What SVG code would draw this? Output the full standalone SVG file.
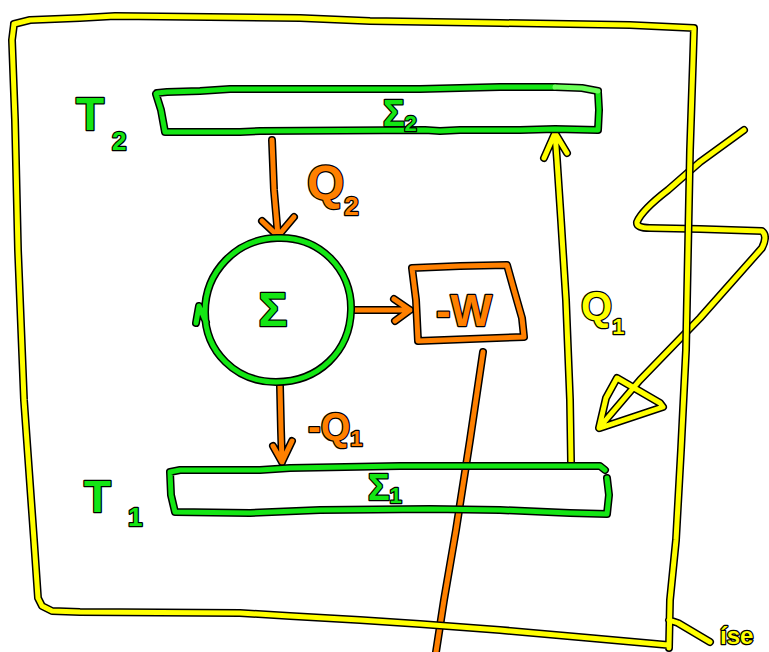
<svg xmlns="http://www.w3.org/2000/svg" xmlns:xlink="http://www.w3.org/1999/xlink" width="769" height="652" viewBox="0 0 769 652">
<style>
.o{fill:none;stroke:#000;stroke-width:8;stroke-linecap:round;stroke-linejoin:round}
.y{fill:none;stroke:#ffff00;stroke-width:5;stroke-linecap:round;stroke-linejoin:round}
.g{fill:none;stroke:#14e614;stroke-width:5;stroke-linecap:round;stroke-linejoin:round}
.lg{fill:none;stroke:#6cff5a;stroke-width:5;stroke-linecap:round;stroke-linejoin:round}
.r{fill:none;stroke:#ff8000;stroke-width:5;stroke-linecap:round;stroke-linejoin:round}
.t{font-family:"Liberation Sans","DejaVu Sans",sans-serif;font-weight:bold;stroke:#000;stroke-width:2.5;paint-order:stroke fill;stroke-linejoin:round}
.tg{fill:#14e614}.tr{fill:#ff8000}.ty{fill:#ffff00}
</style>
<defs>
<path id="frame" d="M14,24 L30,20 L80,18 L115,16 L300,18 L370,21 L500,23 L630,25 L694,28 L693,60 L690,150 L688,250 L686,350 L681,450 L676,540 L670,600 L669,648 M669,620 L678,623 L710,642 M14,24 L12,40 L15,120 L18,250 L24,400 L34,540 L38,598 L42,606 L52,611 L80,612 L240,613 L290,616 L360,620 L420,624 L500,630 L590,638 L668,645"/>
<path id="top" d="M157,93 L167,92 L200,91 L230,89 L420,89 L500,87 L555,87 M598,92 L599,110 L598,130 L555,129 L520,130 L460,130 L440,131 L425,130 L260,131 L240,132 L165,132 L161,110 L156,94"/>
<path id="topl" d="M555,87 L582,88 L598,91"/>
<path id="bot" d="M170,472 L180,470 L260,470 L290,468 L400,466 L600,466 L605,470 M607,478 L609,495 L607,514 L570,513 L500,510 L430,509 L320,510 L250,513 L175,512 L171,495 L170,472"/>
<path id="circ" d="M277,238 C320,236 352,270 351,310 C350,352 318,382 276,382 C236,382 205,352 205,312 C205,272 236,239 277,238 Z M196,323 L199,306 L206,322"/>
<path id="q2" d="M272,140 L274,190 L278,236 M262,221 L278,236 L294,217"/>
<path id="tow" d="M353,310 L410,310 M394,299 L410,310 L395,321"/>
<path id="wbox" d="M412,268 L460,266 L507,265 L514,290 L522,318 L524,337 L470,339 L418,341 L416,300 L412,268"/>
<path id="wline" d="M483,352 L470,440 L456,530 L444,600 L436,652"/>
<path id="q1m" d="M280,386 L281,430 L282,462 M273,446 L282,462 L292,441"/>
<path id="q1" d="M571,462 L570,400 L566,300 L561,220 L557,160 L555,133 M544,158 L555,133 L567,153"/>
<path id="bolt" d="M744,130 L700,162 L668,190 Q642,210 637,222 Q636,228 650,228 L700,229 L762,231 Q768,236 762,248 L700,318 L640,380 L599,428 L606,398 L617,378 L660,403 L663,407 L600,428"/>
</defs>
<g id="connectors">
<use href="#wline" class="o"/><use href="#wline" class="r"/>
<use href="#q2" class="o"/><use href="#q2" class="r"/>
<use href="#tow" class="o"/><use href="#tow" class="r"/>
<use href="#q1m" class="o"/><use href="#q1m" class="r"/>
<use href="#q1" class="o"/><use href="#q1" class="y"/>
<use href="#bolt" class="o"/><use href="#bolt" class="y"/>
</g>
<g id="boundary">
<use href="#frame" class="o"/><use href="#frame" class="y"/>
<text class="t ty" x="720" y="644" font-size="24">íse</text>
</g>
<g id="reservoir2">
<use href="#top" class="o"/><use href="#topl" class="o"/><use href="#top" class="g"/><use href="#topl" class="lg"/>
<text class="t tg" x="383" y="126" font-size="36">Σ<tspan font-size="22" dy="5">2</tspan></text>
<text class="t tg" x="76" y="130" font-size="46">T<tspan font-size="26" x="112" dy="20">2</tspan></text>
</g>
<g id="reservoir1">
<use href="#bot" class="o"/><use href="#bot" class="g"/>
<text class="t tg" x="368" y="500" font-size="36">Σ<tspan font-size="22" dy="3">1</tspan></text>
<text class="t tg" x="84" y="512" font-size="44">T<tspan font-size="26" x="128" dy="14">1</tspan></text>
</g>
<g id="system">
<use href="#circ" class="o"/><use href="#circ" class="g"/>
<text class="t tg" x="273" y="326" font-size="48" text-anchor="middle">Σ</text>
</g>
<g id="work">
<use href="#wbox" class="o"/><use href="#wbox" class="r"/>
<text class="t tr" x="464" y="326" font-size="44" text-anchor="middle">-W</text>
</g>
<g id="labels">
<text class="t tr" x="307" y="199" font-size="48">Q<tspan font-size="26" dy="16">2</tspan></text>
<text class="t tr" x="308" y="440" font-size="38">-Q<tspan font-size="22" dy="6">1</tspan></text>
<text class="t ty" x="581" y="320" font-size="40">Q<tspan font-size="22" dy="14">1</tspan></text>
</g>
</svg>
